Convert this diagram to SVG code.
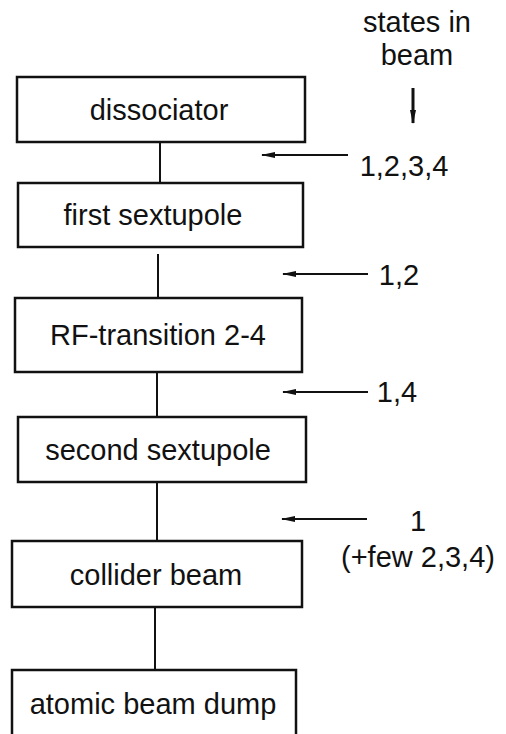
<svg xmlns="http://www.w3.org/2000/svg" width="506" height="734" viewBox="0 0 506 734">
<defs>
<marker id="ah" markerWidth="14" markerHeight="8" refX="13" refY="4" orient="auto" markerUnits="userSpaceOnUse">
<path d="M0,1 L14,4 L0,7 Z" fill="#111"/>
</marker>
<style>
.box{fill:#fff;stroke:#111;stroke-width:2.5}
.t{font-family:"Liberation Sans",Arial,sans-serif;font-size:29px;fill:#111;text-anchor:middle}
.c{stroke:#111;stroke-width:2;fill:none}
.a{stroke:#111;stroke-width:2;fill:none;marker-end:url(#ah)}
</style>
</defs>
<rect width="506" height="734" fill="#fff"/>
<g id="connectors">
<line class="c" x1="160" y1="142" x2="160" y2="183"/>
<line class="c" x1="158" y1="254" x2="158" y2="298"/>
<line class="c" x1="157" y1="372" x2="157" y2="417"/>
<line class="c" x1="157" y1="482" x2="157" y2="541"/>
<line class="c" x1="155" y1="607" x2="155" y2="670"/>
<line class="a" x1="413" y1="88" x2="413" y2="123" style="stroke-width:3"/>
<line class="a" x1="348" y1="155" x2="262" y2="155"/>
<line class="a" x1="368" y1="274" x2="283" y2="274"/>
<line class="a" x1="368" y1="392" x2="283" y2="392"/>
<line class="a" x1="367" y1="519" x2="282" y2="519"/>
</g>
<g id="dissociator">
<rect class="box" x="17" y="77" width="288" height="65"/>
<text class="t" x="159" y="120">dissociator</text>
</g>
<g id="first-sextupole">
<rect class="box" x="18" y="183" width="285" height="64"/>
<text class="t" x="153" y="225">first sextupole</text>
</g>
<g id="rf-transition">
<rect class="box" x="15" y="298" width="287" height="74"/>
<text class="t" x="158" y="345">RF-transition 2-4</text>
</g>
<g id="second-sextupole">
<rect class="box" x="18" y="417" width="288" height="65"/>
<text class="t" x="158" y="460">second sextupole</text>
</g>
<g id="collider-beam">
<rect class="box" x="12" y="541" width="290" height="66"/>
<text class="t" x="156" y="585">collider beam</text>
</g>
<g id="atomic-beam-dump">
<rect class="box" x="12" y="670" width="284" height="80"/>
<text class="t" x="153" y="714">atomic beam dump</text>
</g>
<g id="labels">
<text class="t" x="417" y="32">states in</text>
<text class="t" x="417" y="65">beam</text>
<text class="t" x="404" y="176">1,2,3,4</text>
<text class="t" x="399" y="285">1,2</text>
<text class="t" x="397" y="402">1,4</text>
<text class="t" x="418" y="531">1</text>
<text class="t" x="418" y="567">(+few 2,3,4)</text>
</g>
</svg>
